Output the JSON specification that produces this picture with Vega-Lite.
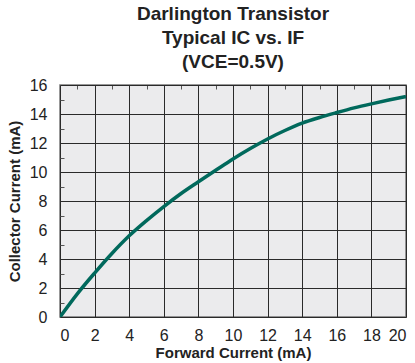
{
  "$schema": "https://vega.github.io/schema/vega-lite/v6.json",
  "width": 346,
  "height": 232,
  "autosize": "none",
  "padding": {"left": 60, "top": 85, "right": 9, "bottom": 46},
  "background": "white",
  "title": {
    "text": ["Darlington Transistor", "Typical IC vs. IF", "(VCE=0.5V)"],
    "font": "Liberation Sans",
    "fontSize": 19,
    "fontWeight": "bold",
    "color": "#222222",
    "lineHeight": 24,
    "offset": 5,
    "anchor": "middle"
  },
  "config": {
    "view": {"fill": "#ebebed", "stroke": "#777777", "strokeWidth": 1.5},
    "axis": {
      "labelFont": "Liberation Sans",
      "labelFontSize": 16,
      "labelColor": "#222222",
      "titleFont": "Liberation Sans",
      "titleFontSize": 15,
      "titleFontWeight": "bold",
      "titleColor": "#222222",
      "domain": false,
      "ticks": false,
      "gridColor": "#2a2a2a",
      "gridWidth": 1
    }
  },
  "data": {
    "values": [
      {"forward": 0, "collector": 0},
      {"forward": 1, "collector": 1.6},
      {"forward": 2, "collector": 3.03},
      {"forward": 3, "collector": 4.38},
      {"forward": 4, "collector": 5.6},
      {"forward": 5, "collector": 6.65},
      {"forward": 6, "collector": 7.62},
      {"forward": 7, "collector": 8.52},
      {"forward": 8, "collector": 9.33},
      {"forward": 9, "collector": 10.12},
      {"forward": 10, "collector": 10.9},
      {"forward": 11, "collector": 11.62},
      {"forward": 12, "collector": 12.28},
      {"forward": 13, "collector": 12.86},
      {"forward": 14, "collector": 13.37},
      {"forward": 15, "collector": 13.76},
      {"forward": 16, "collector": 14.1},
      {"forward": 17, "collector": 14.42},
      {"forward": 18, "collector": 14.7},
      {"forward": 19, "collector": 14.96},
      {"forward": 20, "collector": 15.2}
    ]
  },
  "mark": {"type": "line", "color": "#00695c", "strokeWidth": 3.5, "interpolate": "monotone", "clip": true},
  "encoding": {
    "x": {
      "field": "forward",
      "type": "quantitative",
      "scale": {"domain": [0, 20], "nice": false},
      "axis": {
        "values": [0,1,2,3,4,5,6,7,8,9,10,11,12,13,14,15,16,17,18,19,20],
        "labelExpr": "datum.value % 2 ? '' : datum.label",
        "gridDash": {"condition": {"test": "datum.value % 2 === 1", "value": [4, 1000]}, "value": []},
        "gridColor": {"condition": {"test": "datum.value % 2 === 1", "value": "#555555"}, "value": "#2a2a2a"},
        "labelPadding": 10,
        "title": "Forward Current (mA)",
        "titlePadding": 2
      }
    },
    "y": {
      "field": "collector",
      "type": "quantitative",
      "scale": {"domain": [0, 16], "nice": false},
      "axis": {
        "values": [0,1,2,3,4,5,6,7,8,9,10,11,12,13,14,15,16],
        "labelExpr": "datum.value % 2 ? '' : datum.label",
        "gridDash": {"condition": {"test": "datum.value % 2 === 1", "value": [4, 1000]}, "value": []},
        "gridColor": {"condition": {"test": "datum.value % 2 === 1", "value": "#555555"}, "value": "#2a2a2a"},
        "labelPadding": 13,
        "title": "Collector Current (mA)",
        "titlePadding": 7
      }
    }
  }
}
